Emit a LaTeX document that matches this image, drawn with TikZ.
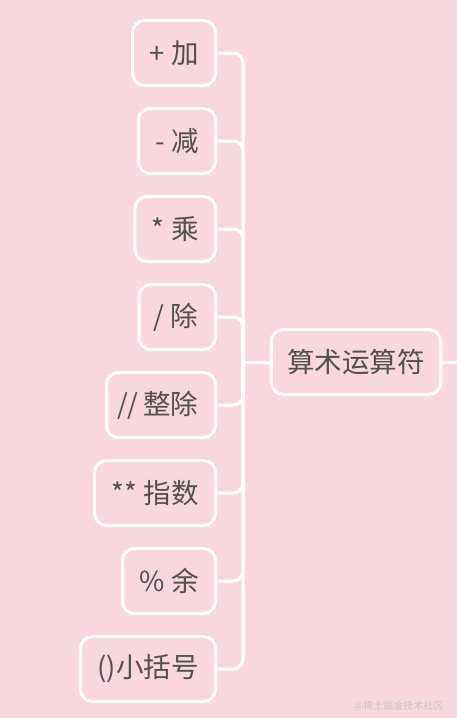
\documentclass[tikz,border=0pt]{standalone}
\usepackage{fontspec}
\setmainfont{Noto Sans CJK SC}
\definecolor{bgpink}{RGB}{248,215,222}
\definecolor{txtgray}{RGB}{80,80,80}
\tikzset{
  leaf/.style={draw=white, line width=3pt, rounded corners=12pt, fill=bgpink,
    minimum height=65pt, inner xsep=17pt, inner ysep=0pt, anchor=east,
    text=txtgray, font=\fontsize{27.5pt}{31pt}\selectfont},
  rootbox/.style={leaf, anchor=center, inner xsep=16pt},
  conn/.style={draw=white, line width=3pt, rounded corners=10pt},
}
\begin{document}
\begin{tikzpicture}[x=1pt,y=-1pt]
\fill[bgpink] (0,0) rectangle (457,718);
\useasboundingbox (0,0) rectangle (457,718);
\coordinate (trunk) at (243,362);
\coordinate (rootout) at (460,362);
\node[rootbox] (root) at (356,362) {算术运算符};
\node[leaf] (l1) at (217,53) {+ 加};
\node[leaf] (l2) at (217,141) {- 减};
\node[leaf] (l3) at (217,229) {* 乘};
\node[leaf] (l4) at (217,317) {\makebox[6pt]{/}\hspace{9pt}除};
\node[leaf] (l5) at (217,405) {\makebox[9pt]{/\kern-1pt/}\hspace{11pt}整除};
\node[leaf] (l6) at (217,493) {** 指数};
\node[leaf] (l7) at (217,581) {\% 余};
\node[leaf] (l8) at (217,669) {()小括号};
\foreach \n in {l1,l2,l3,l4,l5,l6,l7,l8}
  \draw[conn] (\n.east) -| (trunk);
\draw[conn] (root.west) -- (trunk);
\draw[conn] (root.east) -- (rootout);
\node[anchor=east, text=white!55!gray, font=\fontsize{10pt}{12pt}\selectfont] (wm) at (447,706) {@稀土掘金技术社区};
\end{tikzpicture}
\end{document}
